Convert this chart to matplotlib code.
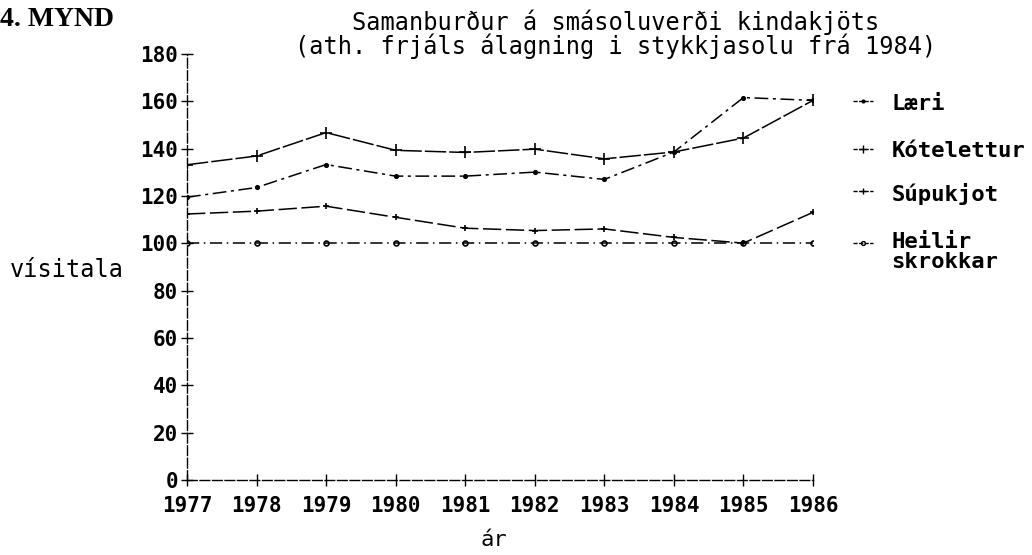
import matplotlib.pyplot as plt

# Data (vísitala)
years = [1977, 1978, 1979, 1980, 1981, 1982, 1983, 1984, 1985, 1986]
laeri = [119.5, 123.6, 133.3, 128.4, 128.4, 130.1, 127.0, 138.6, 161.6, 160.4]
kotelettur = [133.2, 136.9, 146.8, 139.3, 138.4, 139.8, 135.7, 138.6, 144.5, 160.4]
supukjot = [112.4, 113.6, 115.7, 111.0, 106.4, 105.4, 106.1, 102.5, 100.1, 113.1]
heilir = [100, 100, 100, 100, 100, 100, 100, 100, 100, 100]

yticks = [0, 20, 40, 60, 80, 100, 120, 140, 160, 180]

mono = 'DejaVu Sans Mono'

fig = plt.figure(figsize=(10.32, 5.55), dpi=100)
ax = fig.add_axes([0.1812, 0.1351, 0.6066, 0.7676])

# (label, values, marker, marker size, dash pattern, legend y)
series = [
    ('Læri', laeri, '.', 5, (0, (9, 3, 2, 3)), 160),
    ('Kótelettur', kotelettur, '+', 8, (0, (14, 2)), 140),
    ('Súpukjot', supukjot, '+', 5, (0, (12, 3)), 122),
    ('Heilir\nskrokkar', heilir, 'o', 3.5, (0, (8, 3, 1, 3)), 100),
]

for label, vals, mk, ms, ls, ly in series:
    mfc = 'none' if mk == 'o' else 'black'
    ax.plot(years, vals, color='black', lw=1.1, ls=ls, marker=mk, ms=ms,
            mew=1.2, mfc=mfc, zorder=3)
    # hand made legend to the right of the plot
    ax.plot([1986.57, 1986.86], [ly, ly], color='black', lw=1.0, ls=(0, (3, 1)),
            clip_on=False)
    ax.plot([1986.715], [ly], color='black', marker=mk, ms=ms * 0.8, mew=1.0,
            mfc=mfc, clip_on=False)
    if '\n' in label:
        ax.text(1987.13, ly + 5, label, family=mono, fontsize=16, fontweight='bold',
                va='top', ha='left', linespacing=1.05)
    else:
        ax.text(1987.13, ly - 1, label, family=mono, fontsize=16, fontweight='bold',
                va='center', ha='left')

# Axes
ax.set_xlim(1977, 1986)
ax.set_ylim(0, 180)
ax.set_xticks(years)
ax.set_yticks(yticks)
ax.set_xticklabels([str(y) for y in years], family=mono, fontsize=15, fontweight='bold')
ax.set_yticklabels([str(v) for v in yticks], family=mono, fontsize=15, fontweight='bold')
ax.tick_params(axis='both', direction='inout', length=9, width=1.0, colors='black')
ax.tick_params(axis='y', pad=2)
ax.tick_params(axis='x', pad=7)

for side in ['top', 'right']:
    ax.spines[side].set_visible(False)
for side in ['left', 'bottom']:
    ax.spines[side].set_linestyle((0, (7, 2)))
    ax.spines[side].set_linewidth(1.0)

# Texts
fig.text(0.597, 1 - 22 / 555, 'Samanburður á smásoluverði kindakjöts',
         family=mono, fontsize=17, ha='center', va='center')
fig.text(0.597, 1 - 46 / 555, '(ath. frjáls álagning i stykkjasolu frá 1984)',
         family=mono, fontsize=17, ha='center', va='center')
fig.text(0.0, 1 - 20 / 555, '4. MYND', family='Liberation Serif', fontsize=20,
         fontweight='bold', ha='left', va='center')
fig.text(10 / 1032, 1 - 270 / 555, 'vísitala', family=mono, fontsize=17,
         ha='left', va='center')
fig.text(494 / 1032, 1 - 540 / 555, 'ár', family=mono, fontsize=16,
         ha='center', va='center')

fig.savefig('out.png', dpi=100)
